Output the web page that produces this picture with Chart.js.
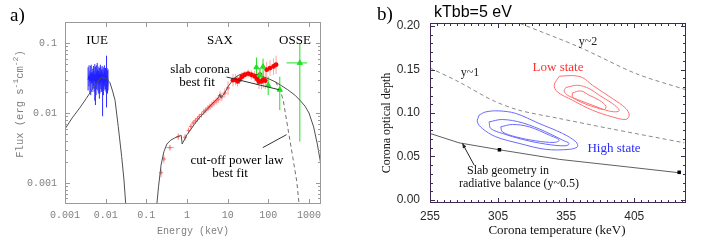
<!DOCTYPE html>
<html>
<head>
<meta charset="utf-8">
<script src="https://cdn.jsdelivr.net/npm/chart.js@4.4.1/dist/chart.umd.min.js"></script>
<style>
  html, body { margin: 0; padding: 0; background: #fff; }
  #wrap { position: relative; width: 708px; height: 247px; overflow: hidden; }
  canvas { position: absolute; top: 0; }
  #chartA { left: 0; }
  #chartB { left: 355px; }
</style>
</head>
<body>
<div id="wrap">
  <canvas id="chartA" width="355" height="247"></canvas>
  <canvas id="chartB" width="353" height="247"></canvas>
</div>
<script>
// ============================================
// DATA - panel a (spectrum)
// ============================================

const A_X_TICKS = [0.001, 0.01, 0.1, 1, 10, 100, 1000];
const A_X_LABELS = ['0.001', '0.01', '0.1', '1', '10', '100', '1000'];
const A_Y_TICKS = [0.001, 0.01, 0.1];
const A_Y_LABELS = ['0.001', '0.01', '0.1'];

// IUE (UV) spectrum
const IUE_E = [0.0037, 0.0039, 0.0041, 0.0043, 0.0044, 0.0046, 0.0048, 0.0050, 0.0052, 0.0054, 0.0056, 0.0058,
  0.0060, 0.0062, 0.0064, 0.0066, 0.0068, 0.0070, 0.0072, 0.0074, 0.0076, 0.0078, 0.0080, 0.0082,
  0.0084, 0.0086, 0.0088, 0.0090, 0.0093, 0.0096, 0.0099, 0.0102, 0.0105, 0.0108, 0.0111, 0.0114];
const IUE_F = [0.030, 0.034, 0.028, 0.033, 0.038, 0.027, 0.031, 0.035, 0.029, 0.036, 0.032, 0.026,
  0.034, 0.040, 0.030, 0.028, 0.036, 0.031, 0.027, 0.038, 0.033, 0.029, 0.030, 0.035,
  0.028, 0.031, 0.026, 0.033, 0.036, 0.030, 0.032, 0.029, 0.034, 0.031, 0.028, 0.030];
const IUE_LO = [0.021, 0.024, 0.019, 0.018, 0.026, 0.020, 0.022, 0.024, 0.020, 0.015, 0.013, 0.018,
  0.022, 0.026, 0.021, 0.019, 0.024, 0.016, 0.019, 0.025, 0.022, 0.020, 0.021, 0.024,
  0.009, 0.021, 0.018, 0.022, 0.024, 0.021, 0.022, 0.020, 0.012, 0.021, 0.019, 0.021];
const IUE_HI = [0.045, 0.048, 0.040, 0.047, 0.049, 0.038, 0.043, 0.047, 0.040, 0.050, 0.046, 0.038,
  0.048, 0.052, 0.042, 0.040, 0.046, 0.044, 0.038, 0.049, 0.045, 0.041, 0.042, 0.047,
  0.039, 0.043, 0.037, 0.045, 0.048, 0.042, 0.044, 0.040, 0.066, 0.044, 0.040, 0.042];

// SAX low energy (crosses)
const SAX_E = [0.23, 0.27, 0.38, 0.61, 0.9, 1.1, 1.25, 1.42, 1.6, 1.8, 2.0, 2.28, 2.6, 2.9, 3.3, 3.66, 4.1,
  4.6, 5.2, 5.85, 6.5, 7.2, 8.5, 10.2];
const SAX_F = [0.0014, 0.0022, 0.0032, 0.0046, 0.0045, 0.0056, 0.0064, 0.0072, 0.0077, 0.0083, 0.0089, 0.0095,
  0.0104, 0.011, 0.0118, 0.0124, 0.0131, 0.014, 0.0149, 0.0158, 0.0178, 0.017, 0.0193, 0.0228];
const SAX_LO = [0.0012, 0.0019, 0.0029, 0.0041, 0.0040, 0.0050, 0.0058, 0.0065, 0.0070, 0.0075, 0.0080, 0.0086,
  0.0094, 0.0099, 0.0106, 0.0111, 0.0117, 0.0125, 0.0132, 0.0138, 0.0150, 0.0148, 0.0165, 0.0180];
const SAX_HI = [0.0016, 0.0025, 0.0035, 0.0051, 0.0050, 0.0062, 0.0071, 0.0079, 0.0085, 0.0091, 0.0098, 0.0104,
  0.0115, 0.0121, 0.0130, 0.0137, 0.0146, 0.0155, 0.0167, 0.0180, 0.0205, 0.0195, 0.0225, 0.0285];
const SAX_ELO = [0.21, 0.25, 0.30, 0.55, 0.82, 1.0, 1.18, 1.33, 1.5, 1.7, 1.9, 2.14, 2.45, 2.75, 3.1, 3.45, 3.9,
  4.35, 4.9, 5.5, 6.2, 6.8, 7.8, 9.4];
const SAX_EHI = [0.25, 0.29, 0.48, 0.68, 1.0, 1.18, 1.33, 1.5, 1.7, 1.9, 2.14, 2.45, 2.75, 3.1, 3.45, 3.9, 4.35,
  4.9, 5.5, 6.2, 6.8, 7.6, 9.2, 11.2];

// SAX high energy (filled circles)
const PDS_E = [13.5, 15.5, 17.5, 19.6, 22.5, 26.4, 31.8, 38, 46, 53, 59, 62, 68, 75, 84, 91, 110, 134, 155];
const PDS_F = [0.0295, 0.030, 0.0283, 0.030, 0.033, 0.0352, 0.0365, 0.0352, 0.0333, 0.0306, 0.028, 0.0352,
  0.0283, 0.030, 0.029, 0.0416, 0.0439, 0.0463, 0.049];
const PDS_LO = [0.024, 0.025, 0.024, 0.026, 0.029, 0.031, 0.032, 0.030, 0.028, 0.025, 0.022, 0.028,
  0.022, 0.023, 0.022, 0.032, 0.034, 0.035, 0.036];
const PDS_HI = [0.036, 0.036, 0.034, 0.035, 0.038, 0.040, 0.042, 0.041, 0.040, 0.038, 0.037, 0.044,
  0.037, 0.039, 0.039, 0.054, 0.057, 0.060, 0.066];

// OSSE (triangles)
const OSSE_E = [51, 62, 74, 99, 191, 594];
const OSSE_F = [0.045, 0.035, 0.046, 0.025, 0.0215, 0.052];
const OSSE_LO = [0.028, 0.027, 0.030, 0.018, 0.011, 0.0039];
const OSSE_HI = [0.062, 0.044, 0.060, 0.033, 0.033, 0.10];
const OSSE_ELO = [47, 58, 69, 92, 180, 280];
const OSSE_EHI = [55, 66, 79, 106, 202, 900];

// slab corona model (solid) and cut-off power law (dashed)
const MODEL_UV_E = [0.001, 0.0015, 0.0023, 0.0033, 0.0045, 0.006, 0.008, 0.0105, 0.0128, 0.015, 0.017,
  0.0204, 0.0247, 0.0282, 0.032];
const MODEL_UV_F = [0.0059, 0.0085, 0.0118, 0.016, 0.021, 0.027, 0.0325, 0.031, 0.027, 0.020, 0.0152,
  0.0064, 0.0024, 0.0011, 0.0004];
const MODEL_X_E = [0.175, 0.2, 0.23, 0.27, 0.32, 0.4, 0.5, 0.6, 0.7, 0.72, 0.76, 0.85, 1.0, 1.5, 2.0, 3.0,
  4.0, 5.3, 6.0, 6.4, 6.8, 7.2, 8.5, 10.3, 13, 16, 20, 25, 30, 40, 60, 100, 150, 200, 300, 450, 600,
  800, 1000, 1300, 1600, 2000];
const MODEL_X_F = [0.0004, 0.0009, 0.0018, 0.0028, 0.0036, 0.0041, 0.0044, 0.0046, 0.0048, 0.0048, 0.0036,
  0.0041, 0.0049, 0.0068, 0.0085, 0.011, 0.0132, 0.0155, 0.0168, 0.0185, 0.0165, 0.017, 0.0195, 0.024,
  0.029, 0.033, 0.0355, 0.0368, 0.0373, 0.0368, 0.0345, 0.031, 0.0278, 0.025, 0.0215, 0.018, 0.0152,
  0.0125, 0.010, 0.0063, 0.0036, 0.0017];
const CUTOFF_E = [150, 190, 231, 300, 400, 500, 580];
const CUTOFF_F = [0.0278, 0.022, 0.0155, 0.0062, 0.0023, 0.00105, 0.00045];

// ============================================
// DATA - panel b (contours)
// ============================================

const B_X_TICKS = [255, 305, 355, 405];
const B_X_LABELS = ['255', '305', '355', '405'];
const B_Y_TICKS = [0, 0.05, 0.10, 0.15, 0.20];
const B_Y_LABELS = ['0.00', '0.05', '0.10', '0.15', '0.20'];

const Y2_T = [321.2, 364.6, 406.3, 442.4];
const Y2_TAU = [0.203, 0.1758, 0.1453, 0.127];
const Y1_T = [255, 276.3, 300.8, 320.4, 349.9, 386.6, 441.8];
const Y1_TAU = [0.1518, 0.1357, 0.1147, 0.1032, 0.0937, 0.0822, 0.0657];
const SLAB_T = [255, 276.3, 306, 349.9, 398.9, 438.1];
const SLAB_TAU = [0.0765, 0.0657, 0.0577, 0.0467, 0.0382, 0.0313];
const SLAB_MARK_T = [306, 438];
const SLAB_MARK_TAU = [0.0577, 0.0318];

const LOW1_T = [349.9, 359.6, 367, 374.3, 389, 398.9, 401.3, 398.9, 389, 374.3, 359.6, 348.6, 346.2];
const LOW1_TAU = [0.1422, 0.143, 0.1407, 0.1319, 0.1166, 0.1052, 0.0975, 0.0926, 0.0955, 0.1032, 0.1147, 0.1242, 0.1319];
const LOW2_T = [354.8, 363.3, 371.9, 379.3, 389, 394, 391.5, 384.2, 374.3, 363.3, 356, 353.5];
const LOW2_TAU = [0.1293, 0.1319, 0.1281, 0.1204, 0.1109, 0.1032, 0.1013, 0.1032, 0.109, 0.1155, 0.1204, 0.1254];
const LOW3_T = [359.6, 365.8, 371.9, 379.3, 384.2, 383, 376.8, 369.5, 362.1, 359.6];
const LOW3_TAU = [0.1231, 0.1254, 0.1204, 0.1147, 0.1078, 0.104, 0.1063, 0.1101, 0.1155, 0.1185];

const HIGH1_T = [291, 296, 305.7, 318, 335.1, 352.3, 362.1, 363.3, 357.2, 340, 320.4, 303.3, 293.4, 289.8];
const HIGH1_TAU = [0.0975, 0.1013, 0.1024, 0.0995, 0.088, 0.0765, 0.0669, 0.0612, 0.0582, 0.0582, 0.0651, 0.0727, 0.0822, 0.0898];
const HIGH2_T = [298.4, 308.2, 322.9, 340, 352.3, 357.2, 354.8, 340, 322.9, 308.2, 299.6];
const HIGH2_TAU = [0.0898, 0.0925, 0.0887, 0.0784, 0.0688, 0.065, 0.0623, 0.0642, 0.0696, 0.0765, 0.0822];
const HIGH3_T = [307, 315.5, 327.8, 342.5, 349.9, 346.2, 332.7, 318, 308.2];
const HIGH3_TAU = [0.0841, 0.0868, 0.0841, 0.0746, 0.0688, 0.0662, 0.068, 0.0726, 0.0783];

// ============================================
// HELPERS
// ============================================

const SERIF = '"Liberation Serif", "DejaVu Serif", serif';
const SANS = '"Liberation Sans", Arial, sans-serif';
const MONO = '"Liberation Mono", "DejaVu Sans Mono", monospace';

function pts(xs, ys) {
  return xs.map((x, i) => ({ x: x, y: ys[i] }));
}

function loop(xs, ys) {
  const p = pts(xs, ys);
  p.push({ x: xs[0], y: ys[0] });
  return p;
}

function text(ctx, str, x, y, font, color, align, rot) {
  ctx.save();
  ctx.font = font;
  ctx.fillStyle = color;
  ctx.textAlign = align || 'center';
  ctx.textBaseline = 'middle';
  ctx.translate(x, y);
  if (rot) ctx.rotate(rot);
  ctx.fillText(str, 0, 0);
  ctx.restore();
}

// rotated axis title made of [string, isSuperscript] pieces
function richVertical(ctx, pieces, cx, cy, size, color) {
  ctx.save();
  ctx.fillStyle = color;
  ctx.textBaseline = 'alphabetic';
  ctx.translate(cx, cy);
  ctx.rotate(-Math.PI / 2);
  const fontOf = (sup) => (sup ? Math.round(size * 0.72) : size) + 'px ' + MONO;
  let total = 0;
  pieces.forEach(([s, sup]) => { ctx.font = fontOf(sup); total += ctx.measureText(s).width; });
  let px = -total / 2;
  pieces.forEach(([s, sup]) => {
    ctx.font = fontOf(sup);
    ctx.fillText(s, px, sup ? -size * 0.05 : size * 0.35);
    px += ctx.measureText(s).width;
  });
  ctx.restore();
}

function seg(ctx, x1, y1, x2, y2) {
  ctx.beginPath();
  ctx.moveTo(x1, y1);
  ctx.lineTo(x2, y2);
  ctx.stroke();
}

// inward tick marks on all four sides of the chart area
function frameTicks(chart, color, xMajor, xMinor, yMajor, yMinor, majLen, minLen) {
  const { ctx, chartArea: a, scales: { x, y } } = chart;
  ctx.save();
  ctx.strokeStyle = color;
  ctx.lineWidth = 1;
  ctx.strokeRect(a.left + 0.5, a.top + 0.5, a.right - a.left - 1, a.bottom - a.top - 1);
  const vx = (list, len) => list.forEach((v) => {
    const p = Math.round(x.getPixelForValue(v)) + 0.5;
    if (p < a.left || p > a.right) return;
    seg(ctx, p, a.bottom, p, a.bottom - len);
    seg(ctx, p, a.top, p, a.top + len);
  });
  const vy = (list, len) => list.forEach((v) => {
    const p = Math.round(y.getPixelForValue(v)) + 0.5;
    if (p < a.top || p > a.bottom) return;
    seg(ctx, a.left, p, a.left + len, p);
    seg(ctx, a.right, p, a.right - len, p);
  });
  vx(xMajor, majLen);
  vx(xMinor, minLen);
  vy(yMajor, majLen);
  vy(yMinor, minLen);
  ctx.restore();
}

// vertical (and optional horizontal) error bars
function errorBars(chart, color, xs, ys, lo, hi, xlo, xhi) {
  const { ctx, scales: { x, y } } = chart;
  ctx.save();
  ctx.strokeStyle = color;
  ctx.lineWidth = 1;
  xs.forEach((v, i) => {
    const px = x.getPixelForValue(v);
    const py = y.getPixelForValue(ys[i]);
    seg(ctx, px, y.getPixelForValue(lo[i]), px, y.getPixelForValue(hi[i]));
    if (xlo) seg(ctx, x.getPixelForValue(xlo[i]), py, x.getPixelForValue(xhi[i]), py);
  });
  ctx.restore();
}

function logMinors(lo, hi) {
  const out = [];
  for (let d = Math.floor(Math.log10(lo)); d <= Math.ceil(Math.log10(hi)); d++) {
    for (let m = 2; m <= 9; m++) {
      const v = m * Math.pow(10, d);
      if (v >= lo && v <= hi) out.push(v);
    }
  }
  return out;
}

function linSteps(lo, hi, step) {
  const out = [];
  for (let v = lo; v <= hi + 1e-9; v += step) out.push(v);
  return out;
}

// ============================================
// PANEL A
// ============================================

const A_XMIN = 0.001, A_XMAX = 1970, A_YMIN = 0.0005, A_YMAX = 0.2;

const panelAPlugin = {
  id: 'panelA',
  beforeDatasetsDraw(chart) {
    const { ctx, chartArea: a } = chart;
    ctx.save();
    ctx.beginPath();
    ctx.rect(a.left, a.top, a.right - a.left, a.bottom - a.top);
    ctx.clip();
    errorBars(chart, '#2a2aff', IUE_E, IUE_F, IUE_LO, IUE_HI);
    errorBars(chart, '#ff9c9c', SAX_E, SAX_F, SAX_LO, SAX_HI, SAX_ELO, SAX_EHI);
    errorBars(chart, '#ffa4a4', PDS_E, PDS_F, PDS_LO, PDS_HI);
    errorBars(chart, '#22e022', OSSE_E, OSSE_F, OSSE_LO, OSSE_HI, OSSE_ELO, OSSE_EHI);
    ctx.restore();
  },
  afterDraw(chart) {
    const { ctx, scales: { x, y } } = chart;
    frameTicks(chart, '#9a9a9a', A_X_TICKS, [], A_Y_TICKS, logMinors(A_YMIN, A_YMAX), 5, 3);

    // pointer lines
    ctx.save();
    ctx.strokeStyle = '#333';
    ctx.lineWidth = 1;
    seg(ctx, x.getPixelForValue(9.4), y.getPixelForValue(0.0327), x.getPixelForValue(185), y.getPixelForValue(0.0215));
    seg(ctx, x.getPixelForValue(73), y.getPixelForValue(0.0032), x.getPixelForValue(280), y.getPixelForValue(0.0049));
    ctx.restore();

    const f13 = '13px ' + SERIF;
    text(ctx, 'a)', 10, 16, '19px ' + SERIF, '#000', 'left');
    text(ctx, 'IUE', 97, 41, f13, '#000');
    text(ctx, 'SAX', 220, 41, f13, '#000');
    text(ctx, 'OSSE', 295, 41, f13, '#000');
    text(ctx, 'slab corona', 200, 70, f13, '#000');
    text(ctx, 'best fit', 197, 83, f13, '#000');
    text(ctx, 'cut-off power law', 237, 161, f13, '#000');
    text(ctx, 'best fit', 230, 174, f13, '#000');
    text(ctx, 'Energy (keV)', 193, 231, '10px ' + MONO, '#808080');
    richVertical(ctx, [['Flux (erg s', false], ['-1', true], ['cm', false], ['-2', true], [')', false]],
      19, 104, 10.5, '#808080');
  },
};

new Chart(document.getElementById('chartA'), {
  type: 'scatter',
  data: {
    datasets: [
      {
        data: pts(OSSE_E, OSSE_F),
        pointStyle: 'triangle',
        pointRadius: 3,
        backgroundColor: '#22e022',
        borderColor: '#22e022',
        borderWidth: 1,
      },
      {
        data: pts(PDS_E, PDS_F),
        pointStyle: 'circle',
        pointRadius: 2.4,
        backgroundColor: '#ff0000',
        borderColor: '#ff0000',
        borderWidth: 0,
      },
      {
        data: pts(MODEL_UV_E, MODEL_UV_F),
        showLine: true,
        pointRadius: 0,
        borderColor: '#505050',
        borderWidth: 1,
      },
      {
        data: pts(MODEL_X_E, MODEL_X_F),
        showLine: true,
        pointRadius: 0,
        borderColor: '#505050',
        borderWidth: 1,
      },
      {
        data: pts(CUTOFF_E, CUTOFF_F),
        showLine: true,
        pointRadius: 0,
        borderColor: '#707070',
        borderWidth: 1,
        borderDash: [4, 3],
      },
      {
        data: pts(SAX_E, SAX_F),
        pointStyle: 'cross',
        pointRadius: 2,
        borderColor: '#ff6a6a',
        borderWidth: 1,
      },
      {
        data: pts(IUE_E, IUE_F),
        showLine: true,
        pointRadius: 0,
        borderColor: '#1f1fff',
        borderWidth: 1.2,
      },
    ],
  },
  options: {
    responsive: false,
    animation: false,
    layout: { padding: { left: 0, right: 34, top: 22, bottom: 0 } },
    plugins: { legend: { display: false }, tooltip: { enabled: false } },
    scales: {
      x: {
        type: 'logarithmic',
        min: A_XMIN,
        max: A_XMAX,
        afterBuildTicks: (s) => { s.ticks = A_X_TICKS.map((v) => ({ value: v })); },
        afterFit: (s) => { s.height = 43; },
        grid: { display: false, drawTicks: false },
        border: { display: false },
        ticks: {
          callback: (v, i) => A_X_LABELS[i],
          font: { family: MONO, size: 10 },
          color: '#808080',
          padding: 5,
          maxRotation: 0,
          autoSkip: false,
        },
      },
      y: {
        type: 'logarithmic',
        min: A_YMIN,
        max: A_YMAX,
        afterBuildTicks: (s) => { s.ticks = A_Y_TICKS.map((v) => ({ value: v })); },
        afterFit: (s) => { s.width = 65; },
        grid: { display: false, drawTicks: false },
        border: { display: false },
        ticks: {
          callback: (v, i) => A_Y_LABELS[i],
          font: { family: MONO, size: 10 },
          color: '#808080',
          padding: 8,
          autoSkip: false,
        },
      },
    },
  },
  plugins: [panelAPlugin],
});

// ============================================
// PANEL B
// ============================================

const B_XMIN = 255, B_XMAX = 443, B_YMIN = -0.0035, B_YMAX = 0.2035;
const B_AXIS = '#3e2a52';

const panelBPlugin = {
  id: 'panelB',
  afterDraw(chart) {
    const { ctx, scales: { x, y } } = chart;
    frameTicks(chart, B_AXIS, B_X_TICKS, linSteps(260, 440, 5), B_Y_TICKS, linSteps(0, 0.2, 0.01), 5, 3);

    // arrow to slab line
    const tx = x.getPixelForValue(287.4), ty = y.getPixelForValue(0.0401);
    const hx = x.getPixelForValue(278.8), hy = y.getPixelForValue(0.065);
    ctx.save();
    ctx.strokeStyle = '#222';
    ctx.fillStyle = '#222';
    ctx.lineWidth = 1;
    seg(ctx, tx, ty, hx, hy);
    const ang = Math.atan2(hy - ty, hx - tx);
    ctx.beginPath();
    ctx.moveTo(hx, hy);
    ctx.lineTo(hx - 5 * Math.cos(ang - 0.4), hy - 5 * Math.sin(ang - 0.4));
    ctx.lineTo(hx - 5 * Math.cos(ang + 0.4), hy - 5 * Math.sin(ang + 0.4));
    ctx.closePath();
    ctx.fill();
    ctx.restore();

    const f12 = '12px ' + SERIF;
    const f13 = '13px ' + SERIF;
    text(ctx, 'b)', 22, 15, '19px ' + SERIF, '#000', 'left');
    text(ctx, 'kTbb=5 eV', 79, 13, '16px ' + SANS, '#000', 'left');
    text(ctx, 'y~2', 233, 42, f12, '#222');
    text(ctx, 'y~1', 115, 73, f12, '#222');
    text(ctx, 'Low state', 203, 68, f13, '#ff3030');
    text(ctx, 'High state', 259, 149, f13, '#2a2aff');
    text(ctx, 'Slab geometry in', 153, 171, f12, '#111');
    text(ctx, 'radiative balance (y~0.5)', 164, 184, f12, '#111');
    text(ctx, 'Corona temperature (keV)', 202, 231, f13, '#111');
    text(ctx, 'Corona optical depth', 32, 123, '12px ' + SERIF, '#111', 'center', -Math.PI / 2);
  },
};

const contour = (xs, ys, color) => ({
  data: loop(xs, ys),
  showLine: true,
  pointRadius: 0,
  borderColor: color,
  borderWidth: 1,
  tension: 0.35,
});

new Chart(document.getElementById('chartB'), {
  type: 'scatter',
  data: {
    datasets: [
      {
        data: pts(SLAB_MARK_T, SLAB_MARK_TAU),
        pointStyle: 'rect',
        pointRadius: 2.5,
        backgroundColor: '#000',
        borderColor: '#000',
        borderWidth: 0,
      },
      contour(LOW1_T, LOW1_TAU, '#ff7070'),
      contour(LOW2_T, LOW2_TAU, '#ff7070'),
      contour(LOW3_T, LOW3_TAU, '#ff7070'),
      contour(HIGH1_T, HIGH1_TAU, '#6a6aff'),
      contour(HIGH2_T, HIGH2_TAU, '#6a6aff'),
      contour(HIGH3_T, HIGH3_TAU, '#6a6aff'),
      {
        data: pts(SLAB_T, SLAB_TAU),
        showLine: true,
        pointRadius: 0,
        borderColor: '#606060',
        borderWidth: 1,
      },
      {
        data: pts(Y1_T, Y1_TAU),
        showLine: true,
        pointRadius: 0,
        borderColor: '#8a8a8a',
        borderWidth: 1,
        borderDash: [4, 3],
        tension: 0.3,
      },
      {
        data: pts(Y2_T, Y2_TAU),
        showLine: true,
        pointRadius: 0,
        borderColor: '#8a8a8a',
        borderWidth: 1,
        borderDash: [4, 3],
        tension: 0.3,
      },
    ],
  },
  options: {
    responsive: false,
    animation: false,
    layout: { padding: { left: 0, right: 22, top: 23, bottom: 0 } },
    plugins: { legend: { display: false }, tooltip: { enabled: false } },
    scales: {
      x: {
        type: 'linear',
        min: B_XMIN,
        max: B_XMAX,
        afterBuildTicks: (s) => { s.ticks = B_X_TICKS.map((v) => ({ value: v })); },
        afterFit: (s) => { s.height = 44; },
        grid: { display: false, drawTicks: false },
        border: { display: false },
        ticks: {
          callback: (v, i) => B_X_LABELS[i],
          font: { family: SANS, size: 12 },
          color: '#2a2a2a',
          padding: 6,
          maxRotation: 0,
          autoSkip: false,
        },
      },
      y: {
        type: 'linear',
        min: B_YMIN,
        max: B_YMAX,
        afterBuildTicks: (s) => { s.ticks = B_Y_TICKS.map((v) => ({ value: v })); },
        afterFit: (s) => { s.width = 75; },
        grid: { display: false, drawTicks: false },
        border: { display: false },
        ticks: {
          callback: (v, i) => B_Y_LABELS[i],
          font: { family: SANS, size: 12 },
          color: '#2a2a2a',
          padding: 10,
          autoSkip: false,
        },
      },
    },
  },
  plugins: [panelBPlugin],
});
</script>
</body>
</html>
